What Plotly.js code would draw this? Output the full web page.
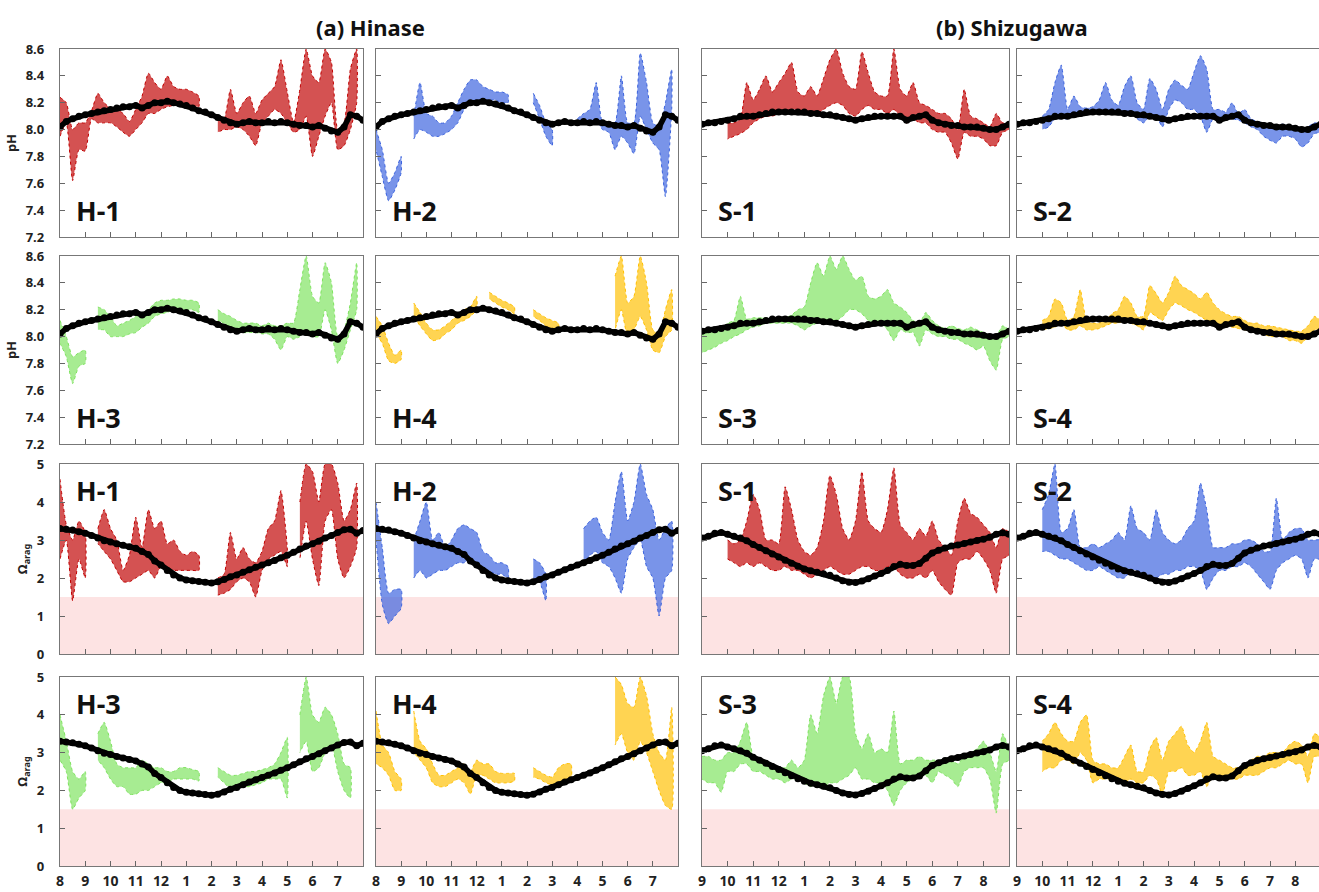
<!DOCTYPE html>
<html>
<head>
<meta charset="utf-8">
<script src="https://cdn.plot.ly/plotly-3.0.1.min.js"></script>
<style>
  html, body { margin: 0; padding: 0; background: #ffffff; }
  #chart { width: 1319px; height: 892px; }
</style>
</head>
<body>
<div id="chart"></div>
<script>
// Sampling interval of the series below, in months from the start of each deployment.
const MONTH_STEP = 0.25;

// Month tick labels for the two sites.
const hinaseMonths = ['8', '9', '10', '11', '12', '1', '2', '3', '4', '5', '6', '7'];
const shizugawaMonths = ['9', '10', '11', '12', '1', '2', '3', '4', '5', '6', '7', '8'];
const phTicks = [7.2, 7.4, 7.6, 7.8, 8.0, 8.2, 8.4, 8.6];
const omegaTicks = [0, 1, 2, 3, 4, 5];
const omegaThreshold = 1.5;

// Smoothed seasonal curves (black) per site.
const hinasePhClim = [8.02, 8.06, 8.08, 8.10, 8.11, 8.12, 8.13, 8.14, 8.15, 8.16, 8.17, 8.17, 8.18, 8.16, 8.18, 8.20, 8.20, 8.21, 8.20, 8.19, 8.18, 8.16, 8.14, 8.13, 8.11, 8.09, 8.07, 8.05, 8.04, 8.05, 8.06, 8.05, 8.05, 8.06, 8.05, 8.06, 8.05, 8.04, 8.03, 8.03, 8.02, 8.03, 8.01, 7.99, 7.98, 8.02, 8.11, 8.10, 8.07];
const hinaseOmegaClim = [3.30, 3.28, 3.26, 3.22, 3.18, 3.12, 3.05, 2.98, 2.95, 2.90, 2.86, 2.82, 2.78, 2.70, 2.62, 2.45, 2.34, 2.20, 2.08, 2.00, 1.95, 1.93, 1.91, 1.89, 1.87, 1.90, 1.96, 2.03, 2.08, 2.15, 2.22, 2.28, 2.34, 2.40, 2.46, 2.53, 2.60, 2.68, 2.76, 2.84, 2.90, 2.97, 3.05, 3.12, 3.20, 3.27, 3.28, 3.18, 3.25];
const shizugawaPhClim = [8.04, 8.05, 8.05, 8.06, 8.07, 8.08, 8.10, 8.10, 8.10, 8.11, 8.12, 8.13, 8.13, 8.13, 8.13, 8.13, 8.13, 8.12, 8.12, 8.11, 8.11, 8.10, 8.09, 8.08, 8.07, 8.08, 8.09, 8.10, 8.10, 8.10, 8.10, 8.10, 8.07, 8.09, 8.10, 8.11, 8.07, 8.05, 8.04, 8.03, 8.03, 8.02, 8.02, 8.02, 8.01, 8.00, 8.00, 8.02, 8.04];
const shizugawaOmegaClim = [3.05, 3.10, 3.18, 3.20, 3.15, 3.10, 3.05, 2.98, 2.88, 2.80, 2.72, 2.63, 2.55, 2.47, 2.39, 2.31, 2.24, 2.19, 2.15, 2.11, 2.07, 2.00, 1.93, 1.89, 1.88, 1.92, 1.98, 2.05, 2.12, 2.20, 2.30, 2.36, 2.33, 2.33, 2.38, 2.52, 2.66, 2.73, 2.79, 2.84, 2.87, 2.91, 2.95, 2.99, 3.02, 3.07, 3.15, 3.19, 3.15];

// Station records: lower and upper envelope of the high-frequency data (null = no data).
const h1PhLo = [7.95, 8.05, 7.62, 7.85, 7.84, 8.08, 8.05, 8.05, 8.05, 8.02, 7.98, 7.95, 8.00, 8.05, 8.12, 8.12, 8.15, 8.17, 8.18, 8.18, 8.17, 8.18, 8.17, null, null, 7.98, 8.00, 8.00, 8.02, 8.00, 7.95, 7.88, 8.05, 8.10, 8.15, 8.12, 8.05, 7.98, 8.00, 8.10, 7.80, 7.95, 8.10, 8.20, 7.85, 7.88, 8.00, 8.20, null];
const h1PhHi = [8.24, 8.20, 8.00, 8.05, 8.05, 8.14, 8.27, 8.20, 8.16, 8.15, 8.12, 8.06, 8.15, 8.25, 8.42, 8.35, 8.30, 8.40, 8.32, 8.30, 8.30, 8.28, 8.25, null, null, 8.08, 8.08, 8.30, 8.12, 8.20, 8.25, 8.12, 8.22, 8.27, 8.32, 8.52, 8.28, 8.05, 8.30, 8.60, 8.40, 8.35, 8.60, 8.50, 8.00, 8.05, 8.45, 8.60, null];

const h2PhLo = [7.85, 7.65, 7.47, 7.55, 7.68, null, 7.93, 8.00, 7.98, 7.95, 7.95, 7.97, 8.00, 8.05, 8.15, 8.20, 8.22, 8.20, 8.22, 8.22, 8.20, 8.20, null, null, null, 8.20, 8.08, 7.95, 7.88, null, null, null, 8.03, 8.05, 8.05, 8.07, 8.00, 7.98, 7.85, 7.95, 7.90, 7.82, 8.10, 8.00, 7.90, 7.85, 7.50, 8.15, null];
const h2PhHi = [8.00, 7.85, 7.60, 7.68, 7.80, null, 8.10, 8.35, 8.12, 8.10, 8.05, 8.05, 8.10, 8.20, 8.30, 8.37, 8.37, 8.32, 8.30, 8.28, 8.28, 8.26, null, null, null, 8.27, 8.18, 8.05, 8.00, null, null, null, 8.08, 8.12, 8.15, 8.35, 8.05, 8.05, 8.05, 8.40, 8.05, 8.05, 8.57, 8.35, 8.05, 8.02, 8.20, 8.45, null];

const s1PhLo = [null, null, null, null, 7.93, 7.95, 7.97, 8.00, 8.05, 8.08, 8.10, 8.10, 8.12, 8.13, 8.15, 8.15, 8.13, 8.13, 8.12, 8.15, 8.18, 8.20, 8.18, 8.12, 8.10, 8.15, 8.18, 8.15, 8.15, 8.12, 8.15, 8.10, 8.05, 8.08, 8.05, 8.05, 8.00, 7.98, 7.98, 7.90, 7.78, 7.98, 7.95, 7.95, 7.93, 7.88, 7.88, 7.98, 8.00];
const s1PhHi = [null, null, null, null, 8.05, 8.05, 8.08, 8.35, 8.22, 8.30, 8.40, 8.28, 8.35, 8.42, 8.50, 8.28, 8.25, 8.32, 8.25, 8.38, 8.52, 8.60, 8.42, 8.32, 8.30, 8.58, 8.42, 8.28, 8.25, 8.25, 8.60, 8.30, 8.25, 8.35, 8.20, 8.18, 8.15, 8.12, 8.12, 8.08, 8.00, 8.30, 8.10, 8.08, 8.05, 8.02, 8.12, 8.05, 8.05];

const s2PhLo = [null, null, null, null, 8.00, 8.02, 8.08, 8.08, 8.08, 8.10, 8.12, 8.12, 8.12, 8.13, 8.15, 8.13, 8.12, 8.12, 8.13, 8.08, 8.05, 8.10, 8.10, 8.02, 8.15, 8.22, 8.20, 8.15, 8.15, 8.10, 7.98, 8.08, 8.08, 8.08, 8.08, 8.07, 8.05, 8.02, 8.00, 7.95, 7.92, 7.90, 7.95, 7.95, 7.93, 7.87, 7.90, 7.97, 7.98];
const s2PhHi = [null, null, null, null, 8.10, 8.15, 8.35, 8.48, 8.15, 8.25, 8.17, 8.16, 8.17, 8.22, 8.35, 8.22, 8.18, 8.32, 8.40, 8.20, 8.15, 8.38, 8.30, 8.15, 8.30, 8.37, 8.33, 8.30, 8.43, 8.55, 8.45, 8.15, 8.15, 8.13, 8.20, 8.12, 8.15, 8.08, 8.06, 8.05, 8.03, 8.03, 8.04, 8.03, 8.02, 8.00, 8.02, 8.05, 8.04];

const h3PhLo = [7.95, 7.85, 7.65, 7.78, 7.80, null, 8.05, 8.05, 8.00, 8.00, 8.00, 8.02, 8.03, 8.07, 8.10, 8.15, 8.17, 8.18, 8.20, 8.20, 8.20, 8.20, 8.18, null, null, 8.12, 8.10, 8.07, 8.05, 8.03, 8.03, 8.03, 8.02, 8.02, 7.98, 7.90, 8.00, 7.98, 8.00, 8.05, 8.00, 8.00, 8.20, 8.05, 7.80, 7.90, 8.05, 8.20, null];
const h3PhHi = [8.12, 8.00, 7.85, 7.88, 7.90, null, 8.22, 8.20, 8.15, 8.08, 8.10, 8.12, 8.15, 8.18, 8.20, 8.25, 8.27, 8.27, 8.28, 8.28, 8.27, 8.27, 8.25, null, null, 8.20, 8.17, 8.15, 8.12, 8.10, 8.10, 8.10, 8.08, 8.10, 8.08, 8.08, 8.10, 8.10, 8.35, 8.60, 8.30, 8.25, 8.55, 8.40, 8.00, 8.05, 8.25, 8.55, null];

const h4PhLo = [8.02, 7.95, 7.82, 7.80, 7.83, null, 8.15, 8.08, 8.02, 7.97, 7.98, 8.02, 8.05, 8.10, 8.12, 8.15, 8.20, null, 8.28, 8.25, 8.22, 8.20, 8.17, null, null, 8.15, 8.12, 8.08, 8.05, 8.05, null, null, null, null, null, null, null, null, 8.05, 8.20, 8.00, 8.05, 8.15, 8.05, 7.90, 7.88, 8.00, 8.05, null];
const h4PhHi = [8.15, 8.08, 7.95, 7.86, 7.90, null, 8.25, 8.18, 8.10, 8.05, 8.05, 8.08, 8.12, 8.16, 8.20, 8.22, 8.30, null, 8.33, 8.30, 8.27, 8.25, 8.22, null, null, 8.20, 8.17, 8.14, 8.12, 8.10, null, null, null, null, null, null, null, null, 8.45, 8.60, 8.25, 8.30, 8.60, 8.40, 8.05, 8.02, 8.20, 8.35, null];

const s3PhLo = [7.88, 7.90, 7.92, 7.95, 7.97, 8.00, 8.02, 8.05, 8.07, 8.08, 8.10, 8.10, 8.10, 8.10, 8.10, 8.08, 8.05, 8.08, 8.10, 8.10, 8.12, 8.12, 8.15, 8.20, 8.20, 8.17, 8.12, 8.10, 8.10, 8.05, 7.97, 8.05, 8.03, 8.03, 7.93, 8.05, 8.02, 8.00, 8.00, 7.98, 7.98, 7.95, 7.93, 7.90, 7.93, 7.82, 7.75, 7.98, 8.00];
const s3PhHi = [8.02, 8.04, 8.05, 8.06, 8.10, 8.12, 8.30, 8.13, 8.14, 8.14, 8.14, 8.13, 8.14, 8.14, 8.16, 8.20, 8.22, 8.40, 8.55, 8.45, 8.60, 8.50, 8.60, 8.50, 8.42, 8.45, 8.30, 8.28, 8.30, 8.35, 8.25, 8.22, 8.18, 8.12, 8.10, 8.18, 8.12, 8.08, 8.06, 8.08, 8.06, 8.05, 8.07, 8.05, 8.03, 7.98, 8.00, 8.08, 8.05];

const s4PhLo = [null, null, null, null, 8.05, 8.06, 8.07, 8.10, 8.05, 8.05, 8.08, 8.05, 8.05, 8.06, 8.08, 8.10, 8.10, 8.12, 8.10, 8.08, 8.05, 8.18, 8.15, 8.12, 8.20, 8.25, 8.23, 8.20, 8.18, 8.15, 8.12, 8.10, 8.08, 8.08, 8.07, 8.06, 8.05, 8.03, 8.03, 8.02, 8.00, 8.00, 8.00, 7.97, 7.97, 7.95, 8.00, 8.05, 8.05];
const s4PhHi = [null, null, null, null, 8.12, 8.15, 8.28, 8.25, 8.12, 8.15, 8.35, 8.12, 8.10, 8.10, 8.12, 8.17, 8.20, 8.30, 8.25, 8.15, 8.15, 8.38, 8.32, 8.25, 8.33, 8.45, 8.38, 8.35, 8.32, 8.28, 8.33, 8.25, 8.20, 8.17, 8.15, 8.15, 8.12, 8.10, 8.10, 8.08, 8.08, 8.07, 8.06, 8.05, 8.04, 8.04, 8.08, 8.15, 8.12];

const h1OmLo = [2.5, 3.0, 1.4, 2.5, 2.0, null, 2.9, 2.7, 2.5, 2.2, 1.9, 1.9, 2.0, 2.1, 2.2, 2.0, 2.3, 2.2, 2.2, 2.2, 2.2, 2.2, 2.2, null, null, 1.55, 1.6, 1.7, 1.9, 2.0, 1.9, 1.5, 2.2, 2.5, 2.6, 2.7, 2.3, null, 2.5, 3.5, 2.5, 1.8, 3.5, 3.8, 2.5, 2.0, 2.3, 2.8, null];
const h1OmHi = [4.6, 3.4, 3.0, 3.5, 3.2, null, 3.3, 3.8, 3.3, 3.0, 2.2, 2.6, 3.6, 2.8, 3.8, 3.3, 3.5, 2.9, 3.0, 2.7, 2.6, 2.7, 2.6, null, null, 2.0, 2.1, 3.2, 2.5, 2.8, 2.5, 2.4, 2.7, 3.3, 3.5, 4.3, 2.8, null, 4.0, 5.0, 4.8, 4.0, 5.0, 5.0, 4.5, 3.5, 3.8, 4.5, null];

const h2OmLo = [3.0, 1.3, 0.8, 1.0, 1.2, null, 2.0, 2.2, 2.0, 2.1, 2.2, 2.2, 2.3, 2.4, 2.4, 2.5, 2.4, 2.2, 2.2, 2.1, 2.1, 2.0, null, null, null, 2.0, 1.9, 1.4, null, null, null, null, null, 2.4, 2.6, 2.7, 2.4, 2.3, 2.0, 1.6, 2.5, 2.8, 3.0, 2.3, 2.0, 1.0, 2.0, 2.2, null];
const h2OmHi = [4.0, 2.8, 1.6, 1.7, 1.7, null, 3.0, 3.5, 4.0, 3.0, 3.2, 2.8, 3.0, 3.3, 3.4, 3.3, 3.2, 2.7, 2.6, 2.4, 2.4, 2.3, null, null, null, 2.5, 2.4, 2.1, null, null, null, null, null, 3.3, 3.5, 3.6, 3.2, 3.0, 4.0, 4.8, 3.5, 4.0, 5.0, 4.2, 3.8, 3.0, 3.3, 3.5, null];

const s1OmLo = [null, null, null, null, 2.5, 2.4, 2.3, 2.4, 2.3, 2.4, 2.3, 2.2, 2.2, 2.3, 2.2, 2.2, 2.1, 2.0, 2.1, 2.2, 2.3, 2.2, 2.1, 2.1, 2.2, 2.3, 2.3, 2.2, 2.2, 2.3, 2.3, 2.1, 2.0, 2.0, 2.1, 2.0, 2.2, 1.9, 1.7, 1.55, 2.4, 2.5, 2.5, 2.7, 2.5, 2.2, 1.6, 2.5, 2.6];
const s1OmHi = [null, null, null, null, 3.0, 2.9, 3.0, 3.5, 4.2, 3.8, 3.0, 3.0, 2.9, 4.4, 3.8, 3.0, 2.7, 2.6, 2.8, 3.5, 4.7, 4.2, 3.3, 3.0, 3.5, 4.8, 3.5, 3.3, 3.2, 3.8, 4.9, 3.4, 3.2, 3.0, 3.3, 3.1, 3.5, 3.0, 2.8, 2.6, 3.5, 4.1, 3.7, 3.6, 3.4, 3.2, 2.8, 3.3, 3.2];

const s2OmLo = [null, null, null, null, 2.7, 2.7, 2.6, 2.5, 2.5, 2.4, 2.3, 2.2, 2.2, 2.3, 2.2, 2.1, 2.0, 2.0, 2.2, 2.2, 2.0, 2.0, 2.0, 2.1, 2.1, 2.2, 2.2, 2.3, 2.3, 2.2, 1.7, 2.0, 2.2, 2.2, 2.3, 2.3, 2.4, 2.3, 2.1, 1.9, 1.7, 2.2, 2.4, 2.5, 2.6, 2.5, 2.0, 2.5, 2.5];
const s2OmHi = [null, null, null, null, 3.8, 4.2, 5.0, 3.2, 3.3, 3.8, 2.8, 2.8, 2.9, 2.8, 2.9, 3.0, 3.2, 3.0, 3.9, 3.3, 3.2, 3.0, 3.8, 3.2, 3.0, 2.9, 3.0, 3.3, 3.5, 4.5, 3.8, 2.8, 2.8, 2.8, 2.9, 2.9, 3.0, 3.0, 2.9, 2.7, 2.7, 4.1, 3.0, 3.2, 3.3, 3.3, 3.0, 3.0, 3.0];

const h3OmLo = [2.8, 2.5, 1.5, 1.8, 2.0, null, 2.8, 2.6, 2.3, 2.1, 2.1, 1.9, 1.9, 2.0, 2.0, 2.1, 2.2, 2.2, 2.3, 2.3, 2.3, 2.3, 2.25, null, null, 2.35, 2.2, 2.05, 2.05, 2.1, 2.1, 2.15, 2.2, 2.3, 2.3, 2.3, 1.8, null, 3.0, 3.3, 2.5, 2.6, 3.0, 3.2, 2.5, 2.0, 1.8, null, null];
const h3OmHi = [4.0, 3.3, 2.5, 2.3, 2.5, null, 3.5, 3.8, 3.3, 2.7, 2.6, 2.6, 2.6, 2.8, 2.7, 2.6, 2.6, 2.5, 2.5, 2.6, 2.6, 2.55, 2.5, null, null, 2.6, 2.5, 2.4, 2.4, 2.45, 2.5, 2.5, 2.55, 2.6, 2.7, 3.0, 3.4, null, 4.0, 5.0, 4.0, 3.8, 4.2, 4.0, 3.5, 2.7, 2.6, null, null];

const h4OmLo = [2.7, 2.6, 2.4, 2.0, 2.0, null, 3.0, 2.8, 2.6, 2.2, 2.1, 2.1, 2.2, 2.3, 2.2, 1.9, 2.4, 2.4, 2.3, 2.2, 2.2, 2.2, 2.25, null, null, 2.35, 2.3, 2.2, 2.15, 2.2, 2.3, 2.3, null, null, null, null, null, null, 3.2, 3.5, 3.0, 2.8, 3.3, 3.0, 2.5, 2.0, 1.6, 1.5, null];
const h4OmHi = [4.1, 3.2, 3.0, 2.5, 2.3, null, 4.1, 3.3, 3.1, 2.7, 2.4, 2.4, 2.5, 2.6, 2.7, 2.5, 2.8, 2.7, 2.7, 2.5, 2.45, 2.45, 2.45, null, null, 2.6, 2.5, 2.4, 2.35, 2.6, 2.7, 2.7, null, null, null, null, null, null, 5.0, 4.8, 4.3, 4.2, 5.0, 4.5, 3.5, 3.0, 2.8, 4.2, null];

const s3OmLo = [2.3, 2.2, 2.2, 1.95, 2.5, 2.5, 2.7, 2.7, 2.5, 2.5, 2.4, 2.3, 2.3, 2.2, 2.3, 2.3, 2.2, 2.1, 2.2, 2.1, 2.2, 2.2, 2.3, 2.4, 2.6, 2.3, 2.3, 2.2, 2.2, 2.0, 1.6, 2.0, 2.2, 2.3, 2.4, 2.4, 2.2, 2.5, 2.4, 2.3, 2.1, 2.5, 2.6, 2.6, 2.6, 2.3, 1.4, 2.7, 2.8];
const s3OmHi = [2.9, 2.9, 2.8, 2.8, 3.0, 3.0, 3.3, 3.8, 2.9, 2.8, 2.8, 2.6, 2.6, 2.6, 2.8, 2.6, 2.8, 4.0, 3.5, 4.5, 5.0, 4.3, 5.0, 5.0, 3.5, 3.1, 3.5, 3.0, 3.1, 3.0, 4.1, 2.7, 2.8, 2.8, 2.9, 2.8, 2.8, 2.8, 2.8, 2.8, 2.7, 2.9, 3.0, 3.1, 3.3, 3.0, 2.5, 3.5, 3.1];

const s4OmLo = [null, null, null, null, 2.5, 2.6, 2.6, 2.8, 2.8, 2.7, 3.0, 2.8, 2.2, 2.3, 2.3, 2.3, 2.3, 2.2, 2.3, 2.2, 2.2, 2.4, 2.3, 1.9, 2.5, 2.5, 2.6, 2.4, 2.4, 2.5, 2.1, 2.4, 2.3, 2.3, 2.3, 2.3, 2.4, 2.4, 2.4, 2.5, 2.6, 2.6, 2.7, 2.8, 2.7, 2.7, 2.2, 2.9, 2.9];
const s4OmHi = [null, null, null, null, 3.3, 3.5, 3.8, 3.5, 3.3, 3.3, 3.8, 4.0, 2.8, 2.7, 2.7, 2.6, 2.6, 2.9, 3.2, 2.5, 2.5, 3.1, 3.4, 2.8, 3.3, 3.5, 3.7, 3.2, 3.0, 3.3, 3.8, 2.9, 2.8, 2.7, 2.6, 2.6, 2.7, 2.8, 2.9, 2.9, 3.0, 3.0, 3.0, 3.2, 3.3, 3.2, 2.9, 3.5, 3.4];

// ---- layout geometry (pixels of the 1319 x 892 page) ----
const W = 1319, H = 892;
const COL_PX = [[60, 363], [376, 678], [702, 1009], [1017, 1319]];
const ROW_PX = [[49, 237], [256, 444], [464, 654], [677, 866]];
const MONTH_PX = 25.3;

const RED = '#c00000', BLUE = '#3a62de', GREEN = '#7ee35e', GOLD = '#ffc000';
const FONT = '"Noto Sans", "Open Sans", "DejaVu Sans", sans-serif';

const panels = [
  { label: 'H-1', lo: h1PhLo, hi: h1PhHi, color: RED, clim: hinasePhClim, kind: 'ph', site: 'h' },
  { label: 'H-2', lo: h2PhLo, hi: h2PhHi, color: BLUE, clim: hinasePhClim, kind: 'ph', site: 'h' },
  { label: 'S-1', lo: s1PhLo, hi: s1PhHi, color: RED, clim: shizugawaPhClim, kind: 'ph', site: 's' },
  { label: 'S-2', lo: s2PhLo, hi: s2PhHi, color: BLUE, clim: shizugawaPhClim, kind: 'ph', site: 's' },
  { label: 'H-3', lo: h3PhLo, hi: h3PhHi, color: GREEN, clim: hinasePhClim, kind: 'ph', site: 'h' },
  { label: 'H-4', lo: h4PhLo, hi: h4PhHi, color: GOLD, clim: hinasePhClim, kind: 'ph', site: 'h' },
  { label: 'S-3', lo: s3PhLo, hi: s3PhHi, color: GREEN, clim: shizugawaPhClim, kind: 'ph', site: 's' },
  { label: 'S-4', lo: s4PhLo, hi: s4PhHi, color: GOLD, clim: shizugawaPhClim, kind: 'ph', site: 's' },
  { label: 'H-1', lo: h1OmLo, hi: h1OmHi, color: RED, clim: hinaseOmegaClim, kind: 'om', site: 'h' },
  { label: 'H-2', lo: h2OmLo, hi: h2OmHi, color: BLUE, clim: hinaseOmegaClim, kind: 'om', site: 'h' },
  { label: 'S-1', lo: s1OmLo, hi: s1OmHi, color: RED, clim: shizugawaOmegaClim, kind: 'om', site: 's' },
  { label: 'S-2', lo: s2OmLo, hi: s2OmHi, color: BLUE, clim: shizugawaOmegaClim, kind: 'om', site: 's' },
  { label: 'H-3', lo: h3OmLo, hi: h3OmHi, color: GREEN, clim: hinaseOmegaClim, kind: 'om', site: 'h' },
  { label: 'H-4', lo: h4OmLo, hi: h4OmHi, color: GOLD, clim: hinaseOmegaClim, kind: 'om', site: 'h' },
  { label: 'S-3', lo: s3OmLo, hi: s3OmHi, color: GREEN, clim: shizugawaOmegaClim, kind: 'om', site: 's' },
  { label: 'S-4', lo: s4OmLo, hi: s4OmHi, color: GOLD, clim: shizugawaOmegaClim, kind: 'om', site: 's' }
];

function hexToRgba(hex, a) {
  const n = parseInt(hex.slice(1), 16);
  return `rgba(${(n >> 16) & 255},${(n >> 8) & 255},${n & 255},${a})`;
}

// Closed outline for every contiguous run of the envelope (upper edge forward, lower edge back).
function envelopePath(lo, hi) {
  const xs = [], ys = [];
  let i = 0;
  while (i < lo.length) {
    if (lo[i] === null) { i++; continue; }
    let j = i;
    while (j < lo.length && lo[j] !== null) j++;
    for (let k = i; k < j; k++) { xs.push(k * MONTH_STEP); ys.push(hi[k]); }
    for (let k = j - 1; k >= i; k--) { xs.push(k * MONTH_STEP); ys.push(lo[k]); }
    xs.push(null); ys.push(null);
    i = j;
  }
  return { xs, ys };
}

const traces = [];
const layout = {
  width: W, height: H,
  margin: { l: 0, r: 0, t: 0, b: 0 },
  paper_bgcolor: '#ffffff', plot_bgcolor: '#ffffff',
  showlegend: false,
  font: { family: FONT, color: '#1a1a1a' },
  shapes: [], annotations: []
};

panels.forEach((p, idx) => {
  const row = Math.floor(idx / 4), col = idx % 4;
  const n = idx + 1;
  const sfx = n === 1 ? '' : String(n);
  const xName = 'x' + sfx, yName = 'y' + sfx;
  const [c0, c1] = COL_PX[col];
  const [r0, r1] = ROW_PX[row];
  const xMax = col === 3 ? (c1 - c0) / MONTH_PX : 12;
  const isPh = p.kind === 'ph';

  // high-frequency record as a filled envelope
  const env = envelopePath(p.lo, p.hi);
  traces.push({
    type: 'scatter', mode: 'lines', x: env.xs, y: env.ys,
    xaxis: xName, yaxis: yName,
    fill: 'toself', fillcolor: hexToRgba(p.color, 0.68),
    line: { color: p.color, width: 1, shape: 'spline', smoothing: 0.5, dash: 'dot' },
    hoverinfo: 'skip'
  });

  // smoothed seasonal curve
  traces.push({
    type: 'scatter', mode: 'lines+markers',
    x: p.clim.map((_, k) => k * MONTH_STEP), y: p.clim,
    xaxis: xName, yaxis: yName,
    line: { color: '#000000', width: 5.5 },
    marker: { color: '#000000', size: 7 },
    hoverinfo: 'skip'
  });

  const months = p.site === 'h' ? hinaseMonths : shizugawaMonths;
  layout['xaxis' + sfx] = {
    domain: [c0 / W, c1 / W], range: [0, xMax], anchor: yName,
    tickvals: months.map((_, k) => k), ticktext: months,
    showticklabels: row === 3,
    ticks: 'inside', ticklen: 5, tickwidth: 1, tickcolor: '#666',
    tickfont: { family: FONT, size: 14, weight: 700, color: '#222' },
    ticklabelstandoff: 2,
    showline: true, linecolor: '#777', linewidth: 1.2, mirror: true,
    showgrid: false, zeroline: false, fixedrange: true
  };
  const yAxis = {
    domain: [1 - r1 / H, 1 - r0 / H], range: isPh ? [7.2, 8.6] : [0, 5], anchor: xName,
    tickvals: isPh ? phTicks : omegaTicks,
    tickformat: isPh ? '.1f' : 'd',
    showticklabels: col === 0,
    ticks: 'inside', ticklen: 5, tickwidth: 1, tickcolor: '#666',
    tickfont: { family: FONT, size: 13, weight: 700, color: '#222' },
    ticklabelstandoff: 12,
    showline: true, linecolor: '#777', linewidth: 1.2, mirror: col !== 3,
    showgrid: false, zeroline: false, fixedrange: true
  };
  if (col === 0) {
    yAxis.title = {
      text: isPh ? 'pH' : 'Ω<sub>arag</sub>',
      font: { family: FONT, size: 13, weight: 700, color: '#222' },
      standoff: 6
    };
  }
  layout['yaxis' + sfx] = yAxis;

  // undersaturation zone
  if (!isPh) {
    layout.shapes.push({
      type: 'rect', layer: 'below',
      xref: xName + ' domain', x0: 0, x1: 1,
      yref: yName, y0: 0, y1: omegaThreshold,
      fillcolor: '#fde3e3', line: { width: 0 }
    });
  }

  // station label
  layout.annotations.push({
    xref: xName + ' domain', yref: yName + ' domain',
    x: 0.045, y: row < 2 ? 0.03 : 0.97,
    xanchor: 'left', yanchor: row < 2 ? 'bottom' : 'top',
    text: p.label, showarrow: false,
    font: { family: FONT, size: 27, weight: 700, color: '#111' }
  });
});

// site headings
layout.annotations.push(
  { xref: 'paper', yref: 'paper', x: 370 / W, y: 1 - 27 / H, xanchor: 'center', yanchor: 'middle',
    text: '(a) Hinase', showarrow: false, font: { family: FONT, size: 22, weight: 700, color: '#111' } },
  { xref: 'paper', yref: 'paper', x: 1012 / W, y: 1 - 27 / H, xanchor: 'center', yanchor: 'middle',
    text: '(b) Shizugawa', showarrow: false, font: { family: FONT, size: 22, weight: 700, color: '#111' } }
);

Plotly.newPlot('chart', traces, layout, { staticPlot: true, displayModeBar: false });
</script>
</body>
</html>
